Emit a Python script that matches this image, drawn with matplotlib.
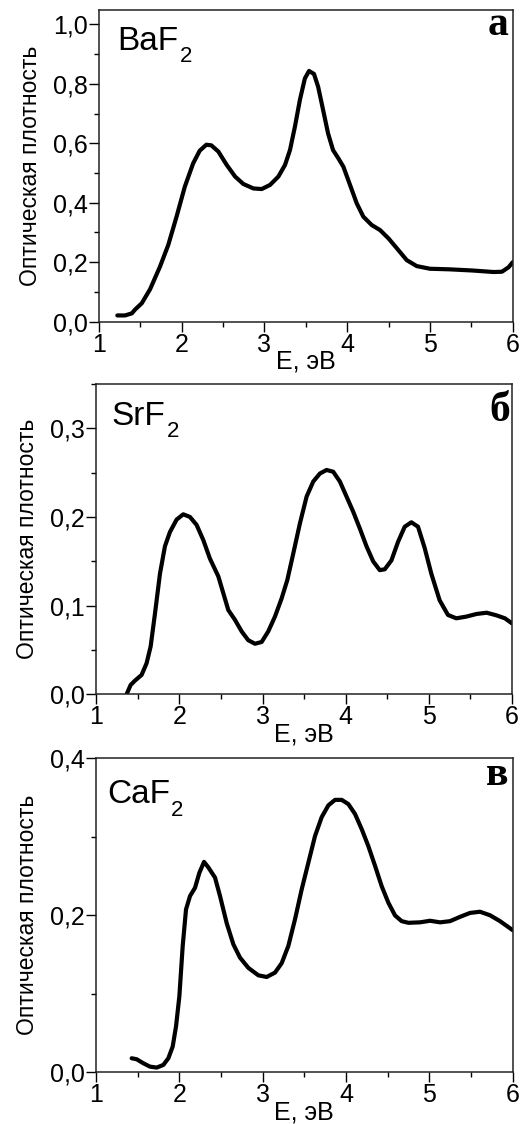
import numpy as np
import matplotlib
matplotlib.use("Agg")
import matplotlib.pyplot as plt
from matplotlib.ticker import MultipleLocator

plt.rcParams['font.family'] = ['Liberation Sans', 'DejaVu Sans']

# BaF2 spectrum (panel a)
E_ba = [1.225, 1.318, 1.40, 1.44, 1.52, 1.62, 1.74, 1.84, 1.94, 2.04, 2.14, 2.22,
        2.30, 2.36, 2.445, 2.546, 2.647, 2.747, 2.868, 2.969, 3.07, 3.17, 3.25,
        3.31, 3.37, 3.43, 3.49, 3.54, 3.60, 3.65, 3.71, 3.77, 3.83, 3.895, 3.955,
        4.035, 4.116, 4.196, 4.297, 4.398, 4.50, 4.60, 4.72, 4.84, 5.00, 5.24,
        5.52, 5.77, 5.87, 5.95, 6.00]
D_ba = [0.021, 0.021, 0.028, 0.041, 0.062, 0.109, 0.185, 0.258, 0.353, 0.454,
        0.532, 0.575, 0.595, 0.593, 0.572, 0.527, 0.488, 0.463, 0.448, 0.446,
        0.46, 0.488, 0.527, 0.577, 0.656, 0.746, 0.818, 0.843, 0.833, 0.79, 0.712,
        0.633, 0.577, 0.549, 0.521, 0.46, 0.398, 0.353, 0.325, 0.308, 0.28, 0.247,
        0.207, 0.187, 0.178, 0.176, 0.172, 0.167, 0.168, 0.183, 0.20]

# SrF2 spectrum (panel b)
E_sr = [1.365, 1.413, 1.465, 1.545, 1.605, 1.654, 1.706, 1.766, 1.826, 1.886,
        1.966, 2.046, 2.127, 2.207, 2.287, 2.367, 2.468, 2.528, 2.588, 2.668,
        2.748, 2.828, 2.909, 2.989, 3.069, 3.149, 3.229, 3.298, 3.37, 3.45, 3.53,
        3.61, 3.69, 3.77, 3.85, 3.93, 4.01, 4.09, 4.17, 4.25, 4.33, 4.41, 4.47,
        4.55, 4.63, 4.71, 4.79, 4.87, 4.95, 5.03, 5.13, 5.23, 5.33, 5.45, 5.575,
        5.695, 5.815, 5.915, 6.00]
D_sr = [0.0, 0.0105, 0.0154, 0.0218, 0.035, 0.054, 0.091, 0.136, 0.167, 0.183,
        0.197, 0.203, 0.200, 0.191, 0.174, 0.153, 0.133, 0.114, 0.095, 0.084,
        0.071, 0.061, 0.057, 0.059, 0.071, 0.0876, 0.108, 0.129, 0.159, 0.193,
        0.223, 0.240, 0.249, 0.253, 0.251, 0.240, 0.223, 0.206, 0.187, 0.167,
        0.150, 0.140, 0.141, 0.151, 0.172, 0.189, 0.194, 0.189, 0.165, 0.136,
        0.106, 0.0895, 0.0857, 0.0876, 0.0906, 0.092, 0.089, 0.0857, 0.080]

# CaF2 spectrum (panel c)
E_ca = [1.428, 1.488, 1.568, 1.648, 1.728, 1.808, 1.868, 1.92, 1.96, 2.00, 2.04,
        2.08, 2.128, 2.188, 2.24, 2.296, 2.348, 2.428, 2.488, 2.568, 2.648, 2.728,
        2.828, 2.948, 3.048, 3.148, 3.228, 3.308, 3.388, 3.468, 3.548, 3.628,
        3.708, 3.788, 3.868, 3.948, 4.028, 4.108, 4.188, 4.268, 4.348, 4.428,
        4.508, 4.588, 4.668, 4.748, 4.888, 5.008, 5.128, 5.248, 5.368, 5.488,
        5.608, 5.728, 5.848, 6.00]
D_ca = [0.0179, 0.0166, 0.0115, 0.0072, 0.006, 0.0094, 0.0179, 0.0328, 0.0584,
        0.0967, 0.1606, 0.2075, 0.2245, 0.235, 0.254, 0.268, 0.261, 0.248, 0.2245,
        0.190, 0.163, 0.146, 0.133, 0.1235, 0.1214, 0.127, 0.139, 0.161, 0.195,
        0.233, 0.267, 0.301, 0.325, 0.340, 0.347, 0.347, 0.3416, 0.329, 0.3097,
        0.288, 0.263, 0.237, 0.216, 0.1998, 0.1925, 0.1904, 0.191, 0.193, 0.191,
        0.1925, 0.198, 0.203, 0.2045, 0.200, 0.1925, 0.181]

names = ["BaF", "SrF", "CaF"]
subs = ["2", "2", "2"]
letters = ["а", "б", "в"]
x_ticks = [1, 2, 3, 4, 5, 6]
x_labels = ["1", "2", "3", "4", "5", "6"]
y_ticks_a = [0.0, 0.2, 0.4, 0.6, 0.8, 1.0]
y_labels_a = ["0,0", "0,2", "0,4", "0,6", "0,8", "1,0"]
y_ticks_b = [0.0, 0.1, 0.2, 0.3]
y_labels_b = ["0,0", "0,1", "0,2", "0,3"]
y_ticks_c = [0.0, 0.2, 0.4]
y_labels_c = ["0,0", "0,2", "0,4"]

fig = plt.figure(figsize=(5.29, 11.24), dpi=100)

panels = [
    ([0.1866, 0.7138, 0.7826, 0.2773], E_ba, D_ba, (0, 1.048), y_ticks_a, y_labels_a, 0.1,
     (0.044, 0.872), (0.989, 0.92)),
    ([0.1820, 0.3823, 0.7858, 0.2761], E_sr, D_sr, (0, 0.35), y_ticks_b, y_labels_b, 0.05,
     (0.037, 0.868), (0.995, 0.88)),
    ([0.1815, 0.0460, 0.7877, 0.2794], E_ca, D_ca, (0, 0.4), y_ticks_c, y_labels_c, 0.1,
     (0.026, 0.857), (0.99, 0.915)),
]

for i, (rect, x, y, ylim, yt, yl, yminor, npos, lpos) in enumerate(panels):
    ax = fig.add_axes(rect)
    ax.plot(x, y, color='black', lw=3, solid_joinstyle='round', solid_capstyle='round')
    ax.set_xlim(1, 6)
    ax.set_ylim(*ylim)
    ax.set_xticks(x_ticks)
    ax.set_xticklabels(x_labels)
    ax.set_yticks(yt)
    ax.set_yticklabels(yl)
    ax.xaxis.set_minor_locator(MultipleLocator(0.5))
    ax.yaxis.set_minor_locator(MultipleLocator(yminor))
    ax.tick_params(which='major', direction='out', length=7, width=1, labelsize=18, pad=1)
    ax.tick_params(which='minor', direction='out', length=3.5, width=1)
    for s in ax.spines.values():
        s.set_linewidth(1.1)
        s.set_color('#222222')
    ax.set_xlabel("E, эВ", fontsize=18, labelpad=-5)
    ax.set_ylabel("Оптическая плотность", fontsize=16.5, labelpad=8)
    t = ax.text(npos[0], npos[1], names[i], transform=ax.transAxes, fontsize=24,
                ha='left', va='baseline')
    # subscript drawn separately so it sits low like in the original
    ax.annotate(subs[i], xy=(1, 0), xycoords=t, xytext=(1, -4),
                textcoords='offset points', fontsize=16, ha='left', va='baseline')
    ax.text(lpos[0], lpos[1], letters[i], transform=ax.transAxes, fontsize=30,
            ha='right', va='baseline', family=['Liberation Serif', 'DejaVu Serif'],
            fontweight='bold')

fig.savefig("out.png", dpi=100)
